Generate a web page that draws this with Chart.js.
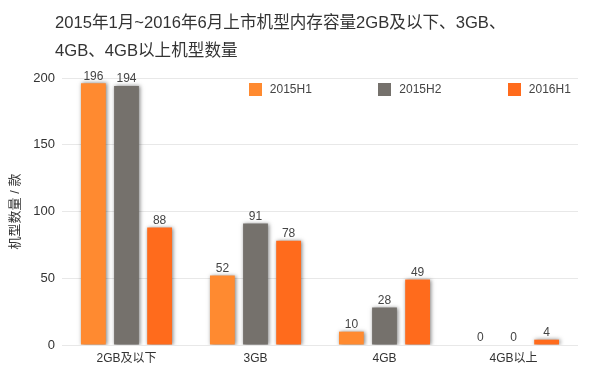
<!DOCTYPE html>
<html>
<head>
<meta charset="utf-8">
<script src="https://cdn.jsdelivr.net/npm/chart.js@4"></script>
<style>
  html, body { margin: 0; padding: 0; background: #fff; }
  #wrap { position: relative; width: 600px; height: 369px; }
  #title {
    position: absolute; left: 55px; top: 9px; width: 540px;
    font-family: "Liberation Sans", "Noto Sans CJK SC", sans-serif;
    font-size: 16.6px; line-height: 28px; color: #333;
  }
  #legend { position: absolute; top: 82px; left: 0; width: 600px; height: 16px; }
  .item { position: absolute; display: flex; align-items: center;
    font-family: "Liberation Sans", "Noto Sans CJK SC", sans-serif; font-size: 12px; color: #444; }
  .box { width: 13px; height: 13px; margin-right: 8px; }
</style>
</head>
<body>
<div id="wrap">
  <canvas id="chart" width="600" height="369"></canvas>
  <div id="title">2015年1月~2016年6月上市机型内存容量2GB及以下、3GB、<br>4GB、4GB以上机型数量</div>
  <div id="legend"></div>
</div>
<script>
// Categories and series
const categories = ['2GB及以下', '3GB', '4GB', '4GB以上'];
const seriesNames = ['2015H1', '2015H2', '2016H1'];
const h1_2015 = [196, 52, 10, 0];
const h2_2015 = [194, 91, 28, 0];
const h1_2016 = [88, 78, 49, 4];
const seriesColors = ['#FF8A30', '#75716C', '#FF6B1C'];
const yTicks = [0, 50, 100, 150, 200];

const FONT = '"Liberation Sans", "Noto Sans CJK SC", sans-serif';

// Shadow around bars
const shadowPlugin = {
    id: 'barShadow',
    beforeDatasetsDraw(chart) {
        const ctx = chart.ctx;
        ctx.save();
        ctx.shadowColor = 'rgba(0,0,0,0.5)';
        ctx.shadowBlur = 4;
        ctx.shadowOffsetX = 1;
        ctx.shadowOffsetY = 0;
    },
    afterDatasetsDraw(chart) {
        chart.ctx.restore();
    }
};

// Value labels above each bar
const valueLabels = {
    id: 'valueLabels',
    afterDatasetsDraw(chart) {
        const ctx = chart.ctx;
        ctx.save();
        ctx.font = '12px ' + FONT;
        ctx.fillStyle = '#444';
        ctx.textAlign = 'center';
        ctx.textBaseline = 'bottom';
        chart.data.datasets.forEach((ds, i) => {
            chart.getDatasetMeta(i).data.forEach((bar, j) => {
                ctx.fillText(ds.data[j], bar.x, bar.y - 1);
            });
        });
        ctx.restore();
    }
};

const datasets = [h1_2015, h2_2015, h1_2016].map((data, i) => ({
    label: seriesNames[i],
    data: data,
    backgroundColor: seriesColors[i],
    borderWidth: 0,
    categoryPercentage: 0.77,
    barPercentage: 0.75
}));

const chart = new Chart(document.getElementById('chart').getContext('2d'), {
    type: 'bar',
    data: { labels: categories, datasets: datasets },
    options: {
        responsive: false,
        animation: false,
        layout: { padding: { top: 78, right: 22, left: 8, bottom: 0 } },
        plugins: {
            legend: { display: false },
            title: { display: false },
            tooltip: { enabled: false }
        },
        scales: {
            x: {
                afterFit: axis => { axis.height = 24; },
                grid: { display: false, drawTicks: false },
                border: { display: false },
                ticks: { color: '#333', font: { family: FONT, size: 12 }, padding: 6 }
            },
            y: {
                min: 0,
                max: 200,
                afterBuildTicks: axis => { axis.ticks = yTicks.map(v => ({ value: v })); },
                afterFit: axis => { axis.width = 54; },
                grid: { color: '#e8e8e8', drawTicks: false },
                border: { display: false },
                ticks: { color: '#333', font: { family: FONT, size: 13 }, padding: 7 },
                title: {
                    display: true,
                    text: '机型数量 / 款',
                    color: '#333',
                    font: { family: FONT, size: 13 },
                    padding: 0
                }
            }
        }
    },
    plugins: [shadowPlugin, valueLabels]
});

// Legend inside the plot area
const legend = document.getElementById('legend');
const area = chart.chartArea;
seriesNames.forEach((name, i) => {
    const item = document.createElement('div');
    item.className = 'item';
    item.style.left = (area.left + (area.right - area.left) * (0.362 + i * 0.251)) + 'px';
    item.innerHTML = '<span class="box" style="background:' + seriesColors[i] + '"></span>' + name;
    legend.appendChild(item);
});
</script>
</body>
</html>
